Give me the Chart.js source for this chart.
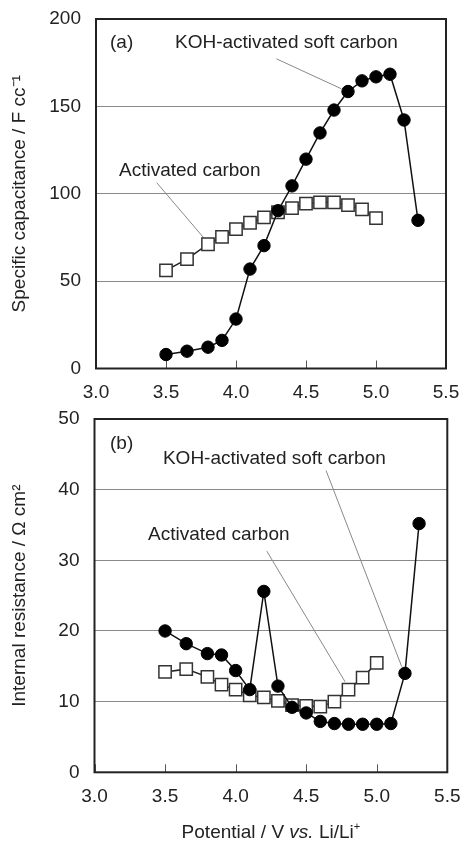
<!DOCTYPE html>
<html>
<head>
<meta charset="utf-8">
<script src="https://cdn.jsdelivr.net/npm/chart.js@4.4.0/dist/chart.umd.min.js"></script>
<style>
  html, body { margin: 0; padding: 0; background: #fff; }
  #wrapTop { position: absolute; left: 0; top: 0; width: 462px; height: 405px; }
  #wrapBottom { position: absolute; left: 0; top: 405px; width: 462px; height: 437px; }
</style>
</head>
<body>
<div id="wrapTop"><canvas id="graficoCapacitancia"></canvas></div>
<div id="wrapBottom"><canvas id="graficoResistencia"></canvas></div>
<script>
// potentials (V vs. Li/Li+)
const potentialKoh = [3.5, 3.65, 3.8, 3.9, 4.0, 4.1, 4.2, 4.3, 4.4, 4.5, 4.6, 4.7, 4.8, 4.9, 5.0, 5.1, 5.2, 5.3];
const potentialAc = [3.5, 3.65, 3.8, 3.9, 4.0, 4.1, 4.2, 4.3, 4.4, 4.5, 4.6, 4.7, 4.8, 4.9, 5.0];

// (a) specific capacitance / F cc-1
const capacitanceKoh = [8.0, 9.9, 12.2, 16.1, 28.3, 56.9, 70.3, 90.3, 104.5, 119.8, 134.8, 147.9, 158.5, 164.6, 166.9, 168.4, 142.2, 84.8];
const capacitanceAc = [56.1, 62.6, 71.1, 75.3, 79.8, 83.4, 86.5, 89.4, 91.8, 94.3, 95.1, 95.1, 93.5, 91.1, 86.1];

// (b) internal resistance / ohm cm2
const resistanceKoh = [20.0, 18.2, 16.8, 16.6, 14.4, 11.7, 25.6, 12.2, 9.2, 8.4, 7.2, 6.9, 6.8, 6.8, 6.8, 6.9, 14.0, 35.2];
const resistanceAc = [14.2, 14.6, 13.5, 12.4, 11.7, 10.9, 10.6, 10.1, 9.5, 9.4, 9.3, 10.0, 11.7, 13.4, 15.5];

// axis ticks
const potentialTicks = [3.0, 3.5, 4.0, 4.5, 5.0, 5.5];
const capacitanceTicks = [0, 50, 100, 150, 200];
const resistanceTicks = [0, 10, 20, 30, 40, 50];

const labelKoh = "KOH-activated soft carbon";
const labelAc = "Activated carbon";

const FONT = "'Liberation Sans', Arial, sans-serif";
const SIZE = 19;
const TEXT = "#222";

const toPoints = (xs, ys) => xs.map((x, i) => ({ x: x, y: ys[i] }));

// in-plot notes and leader lines, placed in data units
const notesTop = [
  { text: "(a)", x: 3.1, y: 186.4 },
  { text: labelKoh, x: 3.564, y: 186.4 },
  { text: labelAc, x: 3.164, y: 113.2 },
];
const leadersTop = [
  [{ x: 4.289, y: 177.2 }, { x: 4.752, y: 160.1 }],
  [{ x: 3.434, y: 106.3 }, { x: 3.778, y: 74.0 }],
];
const notesBottom = [
  { text: "(b)", x: 3.11, y: 46.5 },
  { text: labelKoh, x: 3.485, y: 44.4 },
  { text: labelAc, x: 3.379, y: 33.6 },
];
const leadersBottom = [
  [{ x: 4.641, y: 42.7 }, { x: 5.177, y: 14.96 }],
  [{ x: 4.221, y: 31.3 }, { x: 4.776, y: 12.8 }],
];

const framePlugin = {
  id: "frame",
  beforeDatasetsDraw(chart) {
    const { ctx, chartArea: a, scales: { x } } = chart;
    ctx.save();
    ctx.strokeStyle = "#555";
    ctx.lineWidth = 1;
    x.ticks.forEach((t) => {
      const px = Math.round(x.getPixelForValue(t.value)) + 0.5;
      ctx.beginPath();
      ctx.moveTo(px, a.bottom);
      ctx.lineTo(px, a.bottom - 8);
      ctx.stroke();
    });
    ctx.strokeStyle = "#222";
    ctx.lineWidth = 2;
    ctx.strokeRect(a.left, a.top, a.right - a.left, a.bottom - a.top);
    ctx.restore();
  },
  afterDraw(chart, args, opts) {
    const { ctx, scales: { x, y } } = chart;
    ctx.save();
    ctx.fillStyle = TEXT;
    ctx.font = SIZE + "px " + FONT;
    ctx.textAlign = "left";
    ctx.textBaseline = "middle";
    (opts.notes || []).forEach((n) => {
      ctx.fillText(n.text, x.getPixelForValue(n.x), y.getPixelForValue(n.y));
    });
    if (opts.xTitle) {
      // "Potential / V vs. Li/Li+" with italic "vs." and superscript "+"
      const parts = [
        { t: "Potential / V ", f: SIZE + "px " + FONT, dy: 0 },
        { t: "vs.", f: "italic " + SIZE + "px " + FONT, dy: 0 },
        { t: " Li/Li", f: SIZE + "px " + FONT, dy: 0 },
        { t: "+", f: "11px " + FONT, dy: -6 },
      ];
      let w = 0;
      parts.forEach((p) => { ctx.font = p.f; w += ctx.measureText(p.t).width; });
      const a = chart.chartArea;
      let px = (a.left + a.right) / 2 - w / 2;
      const py = opts.xTitle;
      parts.forEach((p) => {
        ctx.font = p.f;
        ctx.fillText(p.t, px, py + p.dy);
        px += ctx.measureText(p.t).width;
      });
    }
    ctx.restore();
  },
};

const makeDatasets = (koh, ac, leaders) => {
  const sets = [
    {
      label: labelKoh,
      data: koh,
      borderColor: "#111",
      borderWidth: 1.5,
      pointStyle: "circle",
      pointRadius: 6.2,
      pointBorderWidth: 1,
      pointBackgroundColor: "#000",
      pointBorderColor: "#000",
    },
    {
      label: labelAc,
      data: ac,
      borderColor: "#222",
      borderWidth: 1.5,
      pointStyle: "rect",
      pointRadius: 8.7,
      pointBorderWidth: 1.5,
      pointBackgroundColor: "#fff",
      pointBorderColor: "#333",
    },
  ];
  leaders.forEach((seg) => {
    sets.push({
      label: "leader",
      data: seg,
      borderColor: "#888",
      borderWidth: 1,
      pointRadius: 0,
    });
  });
  return sets;
};

const makeOptions = (yTicks, yTitle, plotLeft, xHeight, pad, frameOpts) => ({
  responsive: true,
  maintainAspectRatio: false,
  animation: false,
  layout: { padding: pad },
  plugins: {
    legend: { display: false },
    tooltip: { enabled: false },
    frame: frameOpts,
  },
  elements: { line: { tension: 0, fill: false } },
  scales: {
    x: {
      type: "linear",
      min: potentialTicks[0],
      max: potentialTicks[potentialTicks.length - 1],
      afterBuildTicks: (s) => { s.ticks = potentialTicks.map((v) => ({ value: v })); },
      afterFit: (s) => { s.height = xHeight; s.paddingLeft = 0; s.paddingRight = 0; },
      grid: { display: false, drawTicks: false },
      border: { display: false },
      ticks: {
        padding: 13,
        color: TEXT,
        font: { family: FONT, size: SIZE },
        callback: (v) => v.toFixed(1),
      },
    },
    y: {
      min: yTicks[0],
      max: yTicks[yTicks.length - 1],
      afterBuildTicks: (s) => { s.ticks = yTicks.map((v) => ({ value: v })); },
      afterFit: (s) => { s.width = plotLeft; s.paddingTop = 0; s.paddingBottom = 0; },
      grid: { color: "#8a8a8a", lineWidth: 1, drawTicks: false },
      border: { display: false },
      ticks: {
        padding: 15,
        color: TEXT,
        font: { family: FONT, size: SIZE },
      },
      title: {
        display: true,
        text: yTitle,
        color: TEXT,
        font: { family: FONT, size: SIZE },
        padding: { top: 8.5, bottom: 0 },
      },
    },
  },
});

const chartCapacitance = new Chart(document.getElementById("graficoCapacitancia"), {
  type: "line",
  data: {
    datasets: makeDatasets(
      toPoints(potentialKoh, capacitanceKoh),
      toPoints(potentialAc, capacitanceAc),
      leadersTop
    ),
  },
  options: makeOptions(
    capacitanceTicks, "Specific capacitance / F cc\u207B\u00B9", 96, 36.5,
    { top: 19, right: 16, bottom: 0, left: 0 }, { notes: notesTop }
  ),
  plugins: [framePlugin],
});

const chartResistance = new Chart(document.getElementById("graficoResistencia"), {
  type: "line",
  data: {
    datasets: makeDatasets(
      toPoints(potentialKoh, resistanceKoh),
      toPoints(potentialAc, resistanceAc),
      leadersBottom
    ),
  },
  options: makeOptions(
    resistanceTicks, "Internal resistance / \u03A9 cm\u00B2", 94.5, 69.7,
    { top: 14, right: 14.7, bottom: 0, left: 0 }, { notes: notesBottom, xTitle: 428 }
  ),
  plugins: [framePlugin],
});
</script>
</body>
</html>
